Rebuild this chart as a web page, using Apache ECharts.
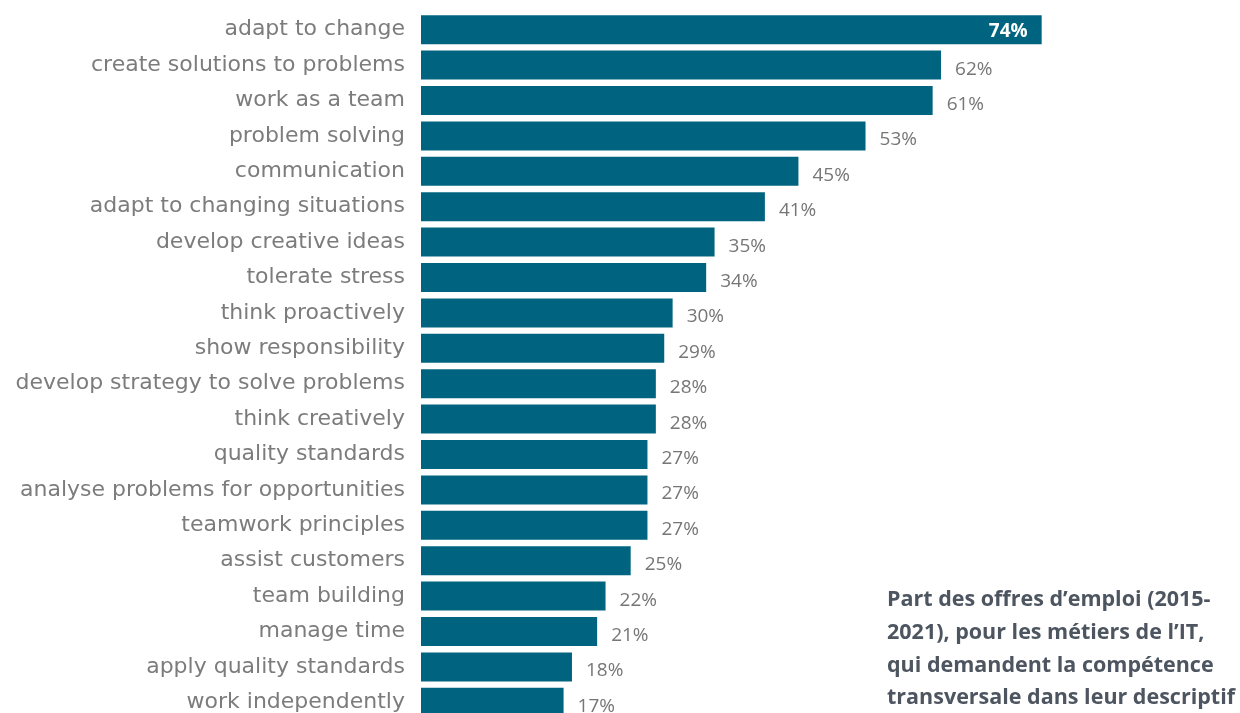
<!DOCTYPE html>
<html>
<head>
<meta charset="utf-8">
<script src="https://cdn.jsdelivr.net/npm/echarts@6/dist/echarts.min.js"></script>
<style>
  html, body { margin: 0; padding: 0; background: #fff; }
  #chart { width: 1240px; height: 713px; }
</style>
</head>
<body>
<div id="chart"></div>
<script>
// Transversal skills requested in IT job offers (share of offers, %)
const skills = [
  'adapt to change',
  'create solutions to problems',
  'work as a team',
  'problem solving',
  'communication',
  'adapt to changing situations',
  'develop creative ideas',
  'tolerate stress',
  'think proactively',
  'show responsibility',
  'develop strategy to solve problems',
  'think creatively',
  'quality standards',
  'analyse problems for opportunities',
  'teamwork principles',
  'assist customers',
  'team building',
  'manage time',
  'apply quality standards',
  'work independently'
];
const shares = [74, 62, 61, 53, 45, 41, 35, 34, 30, 29, 28, 28, 27, 27, 27, 25, 22, 21, 18, 17];

const noteLines = [
  'Part des offres d\u2019emploi (2015-',
  '2021), pour les m\u00e9tiers de l\u2019IT,',
  'qui demandent la comp\u00e9tence',
  'transversale dans leur descriptif'
];

const barData = shares.map((v, i) => {
  if (i === 0) {
    return {
      value: v,
      label: {
        position: 'insideRight',
        distance: 14,
        color: '#ffffff',
        fontWeight: 'bold',
        offset: [0, 2]
      }
    };
  }
  return v;
});

const chart = echarts.init(document.getElementById('chart'), null, { renderer: 'canvas' });
chart.setOption({
  animation: false,
  backgroundColor: '#ffffff',
  grid: {
    left: 421, width: 671, top: 12, height: 708,
    containLabel: false,
    outerBoundsMode: 'none'
  },
  xAxis: {
    type: 'value',
    min: 0,
    max: 80,
    show: false
  },
  yAxis: {
    type: 'category',
    data: skills,
    inverse: true,
    axisLine: { show: false },
    axisTick: { show: false },
    axisLabel: {
      margin: 16,
      fontFamily: 'DejaVu Sans',
      fontSize: 22,
      color: '#7c7c7c'
    }
  },
  series: [{
    type: 'bar',
    data: barData,
    barCategoryGap: '18%',
    itemStyle: { color: '#006480' },
    label: {
      show: true,
      position: 'right',
      distance: 14,
      offset: [0, 4],
      formatter: p => p.value + '%',
      fontFamily: 'Open Sans',
      fontSize: 19,
      color: '#767676'
    }
  }],
  graphic: noteLines.map((t, i) => ({
    type: 'text',
    x: 887,
    y: 600 + i * 32.7,
    style: {
      text: t,
      fontFamily: 'Open Sans',
      fontWeight: 'bold',
      fontSize: 21.5,
      fill: '#4d5560',
      textAlign: 'left',
      textVerticalAlign: 'middle'
    }
  }))
});
</script>
</body>
</html>
